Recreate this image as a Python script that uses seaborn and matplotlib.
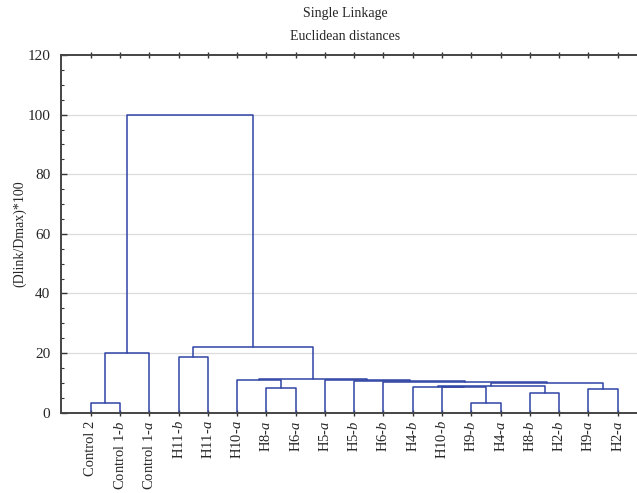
import pandas as pd
import matplotlib.pyplot as plt
import seaborn as sns

# leaves in the order they appear on the x axis
leaves = ['Control 2', 'Control 1-b', 'Control 1-a', 'H11-b', 'H11-a', 'H10-a',
          'H8-a', 'H6-a', 'H5-a', 'H5-b', 'H6-b', 'H4-b', 'H10-b', 'H9-b',
          'H4-a', 'H8-b', 'H2-b', 'H9-a', 'H2-a']

# merges: node name, left child, right child, height
node_names = ['n1', 'n2', 'n3', 'n4', 'n5', 'n6', 'n7', 'n8', 'n9',
              'n10', 'n11', 'n12', 'n13', 'n14', 'n15', 'n16', 'n17', 'n18']
left_child = ['Control 2', 'H9-b', 'H8-b', 'H9-a', 'H8-a', 'H10-b', 'H4-b', 'n7', 'n8',
              'H6-b', 'H5-b', 'H10-a', 'H5-a', 'n12', 'H11-b', 'n1', 'n15', 'n16']
right_child = ['Control 1-b', 'H4-a', 'H2-b', 'H2-a', 'H6-a', 'n2', 'n6', 'n3', 'n4',
               'n9', 'n10', 'n5', 'n11', 'n13', 'H11-a', 'Control 1-a', 'n14', 'n17']
heights = [3.4, 3.4, 6.5, 8.0, 8.3, 8.5, 8.7, 9.1, 10.1,
           10.4, 10.6, 10.9, 11.0, 11.4, 18.6, 19.9, 22.1, 100.0]

# position / height of every node
pos = {name: i + 1 for i, name in enumerate(leaves)}
hgt = {name: 0.0 for name in leaves}
rows = []
for k, (nm, l, r, h) in enumerate(zip(node_names, left_child, right_child, heights)):
    xs = [pos[l], pos[l], pos[r], pos[r]]
    ys = [hgt[l], h, h, hgt[r]]
    for j, (x, y) in enumerate(zip(xs, ys)):
        rows.append({'seg': k, 'order': j, 'x': x, 'y': y})
    pos[nm] = (pos[l] + pos[r]) / 2
    hgt[nm] = h
df = pd.DataFrame(rows)

sns.set_theme(style='ticks')
plt.rcParams['font.family'] = ['Liberation Serif', 'DejaVu Serif']
plt.rcParams['mathtext.fontset'] = 'custom'
plt.rcParams['mathtext.rm'] = 'Liberation Serif'
plt.rcParams['mathtext.it'] = 'Liberation Serif:italic'

fig = plt.figure(figsize=(6.37, 4.93), dpi=100)
ax = fig.add_axes([61.4 / 637, 80.3 / 493, 585.6 / 637, 357.7 / 493])

for y in [20, 40, 60, 80, 100]:
    ax.axhline(y, color='#dcdcdc', lw=0.9, zorder=0)

sns.lineplot(data=df, x='x', y='y', units='seg', estimator=None, sort=False,
             color='#2f44a4', lw=1.1, ax=ax, legend=False)

ax.set_xlim(0, 20)
ax.set_ylim(0, 120)
ax.set_yticks([0, 20, 40, 60, 80, 100, 120])
ax.set_yticks(range(0, 121, 5), minor=True)
ax.set_xticks(range(1, len(leaves) + 1))
ticklabels = [s[:-1] + '$' + s[-1] + '$' if s[-2] == '-' else s for s in leaves]
ax.set_xticklabels(ticklabels, rotation=90, fontsize=10.5)
ax.tick_params(axis='x', direction='inout', length=4, width=1, top=True, labeltop=False, color='#333333')
ax.tick_params(axis='y', which='major', direction='in', length=4, width=1, labelsize=11,
               pad=8, color='#333333')
ax.tick_params(axis='y', which='minor', direction='in', length=2, width=0.8, color='#333333')
ax.set_xlabel('')
ax.set_ylabel('(Dlink/Dmax)*100', fontsize=10, labelpad=1)
for sp in ax.spines.values():
    sp.set_color('#444444')
    sp.set_linewidth(1.4)

fig.text(345 / 637, 1 - 14 / 493, 'Single Linkage', ha='center', va='center', fontsize=10)
fig.text(345 / 637, 1 - 36 / 493, 'Euclidean distances', ha='center', va='center', fontsize=10)

fig.savefig('out.png', dpi=100)
